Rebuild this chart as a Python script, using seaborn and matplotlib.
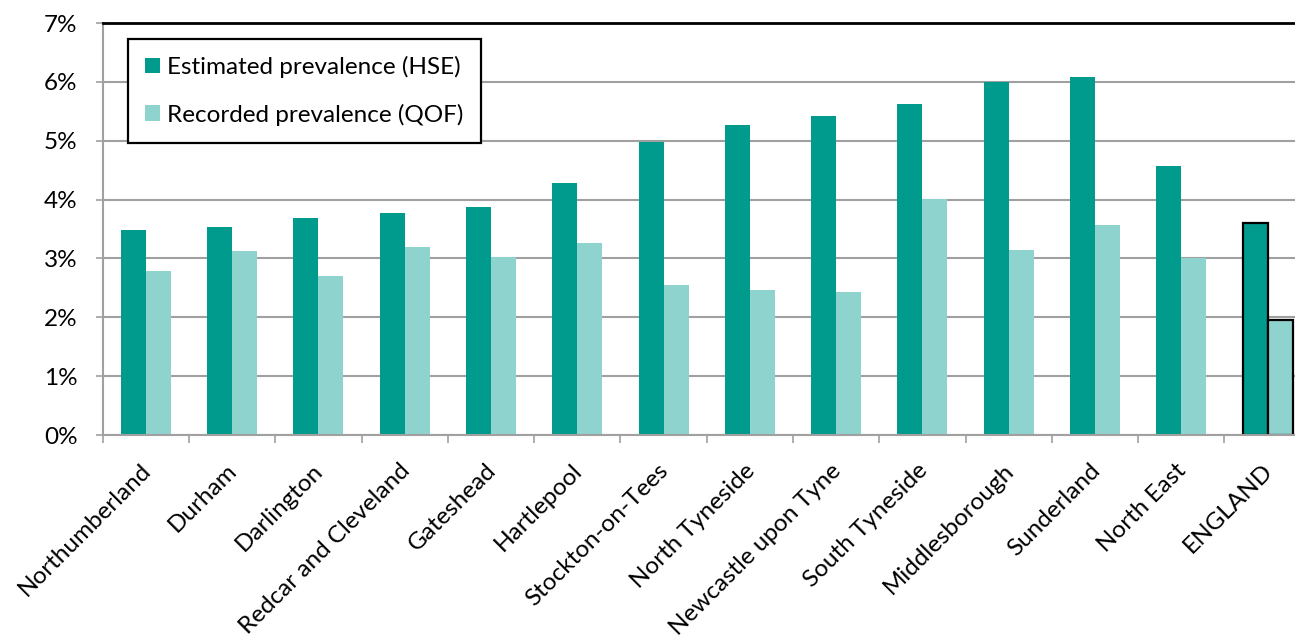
import numpy as np
import pandas as pd
import matplotlib
matplotlib.use("Agg")
import matplotlib.pyplot as plt
import matplotlib.transforms as mtransforms
from matplotlib.ticker import FuncFormatter, FixedLocator
import seaborn as sns

areas = ["Northumberland", "Durham", "Darlington", "Redcar and Cleveland", "Gateshead",
         "Hartlepool", "Stockton-on-Tees", "North Tyneside", "Newcastle upon Tyne",
         "South Tyneside", "Middlesborough", "Sunderland", "North East", "ENGLAND"]
hse = [3.48, 3.54, 3.68, 3.78, 3.87, 4.28, 4.98, 5.27, 5.42, 5.62, 5.99, 6.08, 4.57, 3.61]
qof = [2.78, 3.13, 2.70, 3.20, 3.02, 3.27, 2.55, 2.46, 2.43, 4.01, 3.15, 3.56, 3.00, 1.96]
series_names = ["Estimated prevalence (HSE)", "Recorded prevalence (QOF)"]
colors = ["#009B8D", "#8FD3CE"]
ytick_vals = [0, 1, 2, 3, 4, 5, 6, 7]

df = pd.DataFrame({
    "area": areas * 2,
    "series": [series_names[0]] * len(areas) + [series_names[1]] * len(areas),
    "value": hse + qof,
})

plt.rcParams["font.family"] = ["Lato", "DejaVu Sans"]
FS = 17.5
W, H = 1295, 639
fig = plt.figure(figsize=(W / 100, H / 100), dpi=100)
ax = fig.add_axes([102.7 / W, 1 - 435 / H, 1208 / W, 412 / H])

sns.barplot(data=df, x="area", y="value", hue="series", order=areas,
            hue_order=series_names, palette=colors, width=0.58,
            linewidth=0, saturation=1, ax=ax, errorbar=None)

# black outline on ENGLAND bars
for cont in ax.containers:
    bar = cont.patches[-1]
    bar.set_edgecolor("black")
    bar.set_linewidth(1.6)

ax.set_xlim(-0.5, len(areas) - 0.5)
ax.set_ylim(0, 7)
ax.set_xlabel("")
ax.set_ylabel("")

grid_c = "#a0a0a0"
ax.yaxis.set_major_locator(FixedLocator(ytick_vals))
ax.yaxis.set_major_formatter(FuncFormatter(lambda v, p: f"{int(round(v))}%"))
ax.grid(axis="y", color=grid_c, linewidth=1.5)
ax.set_axisbelow(True)
ax.tick_params(axis="y", which="major", length=5, width=1.2, color=grid_c,
               pad=13, labelsize=FS, labelcolor="black")

ax.set_xticks(np.arange(len(areas)))
ax.set_xticks(np.arange(len(areas) + 1) - 0.5, minor=True)
ax.tick_params(axis="x", which="major", length=0, pad=18, labelsize=FS)
ax.tick_params(axis="x", which="minor", length=6, width=1.2, color=grid_c)
offset = mtransforms.ScaledTranslation(-6 / 100, 0, fig.dpi_scale_trans)
for lab in ax.get_xticklabels():
    lab.set_rotation(45)
    lab.set_ha("right")
    lab.set_va("top")
    lab.set_rotation_mode("anchor")
    lab.set_transform(lab.get_transform() + offset)

for s in ["left", "bottom"]:
    ax.spines[s].set_color(grid_c)
    ax.spines[s].set_linewidth(1.5)
for s in ["top", "right"]:
    ax.spines[s].set_color("black")
    ax.spines[s].set_linewidth(2)

handles, labels = ax.get_legend_handles_labels()
leg = ax.legend(handles, labels, loc="upper left",
                bbox_to_anchor=(128 / W, 1 - 39 / H), bbox_transform=fig.transFigure,
                borderaxespad=0, fontsize=FS, frameon=True, fancybox=False,
                handlelength=0.62, handleheight=0.62, handletextpad=0.3,
                labelspacing=1.05, borderpad=0.7, title=None)
leg.get_frame().set_edgecolor("black")
leg.get_frame().set_linewidth(1.6)
leg.get_frame().set_alpha(1)

fig.savefig("out.png", dpi=100)
